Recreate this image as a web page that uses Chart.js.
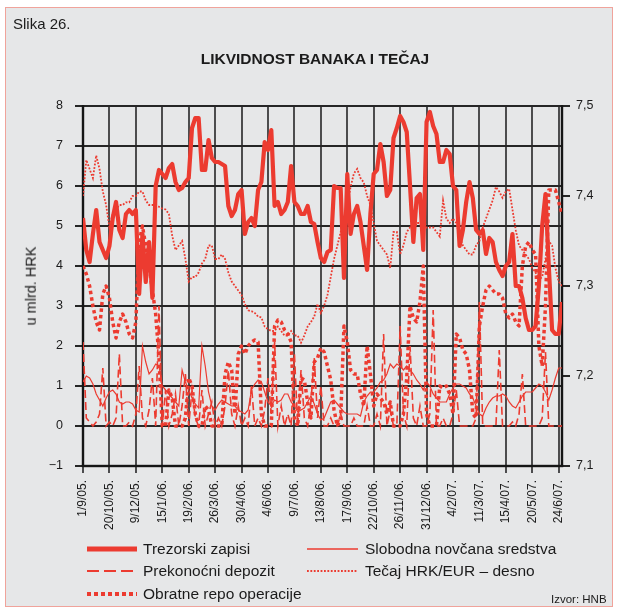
<!DOCTYPE html>
<html>
<head>
<meta charset="utf-8">
<script src="https://cdn.jsdelivr.net/npm/chart.js@4/dist/chart.umd.min.js"></script>
<style>
body{margin:0;background:#fff;font-family:"Liberation Sans",Arial,sans-serif;color:#1b1b1b;}
#frame{position:absolute;left:5px;top:7px;width:608px;height:600px;background:#e6e7e8;border:1px solid #f0a39b;box-sizing:border-box;}
#c{position:absolute;left:0;top:0;}
.t{position:absolute;white-space:nowrap;line-height:1;}
.leg{position:absolute;}
</style>
</head>
<body>
<div id="frame"></div>
<canvas id="c" width="618" height="610"></canvas>

<div class="t" style="left:13px;top:16px;font-size:15px">Slika 26.</div>
<div class="t" style="left:315px;top:59px;font-size:15.5px;font-weight:bold;transform:translate(-50%,-50%)">LIKVIDNOST BANAKA I TEČAJ</div>
<div class="t" style="left:31px;top:286px;font-size:14.5px;transform:translate(-50%,-50%) rotate(-90deg)">u mlrd. HRK</div>

<!-- legenda -->
<svg class="leg" style="left:87px;top:545px" width="50" height="8"><line x1="0" y1="4" x2="50" y2="4" stroke="#ec3b30" stroke-width="5"/></svg>
<div class="t" style="left:143px;top:549px;font-size:15.5px;transform:translateY(-50%)">Trezorski zapisi</div>
<svg class="leg" style="left:307px;top:545px" width="51" height="8"><line x1="0" y1="4" x2="51" y2="4" stroke="#ec3b30" stroke-width="1.5"/></svg>
<div class="t" style="left:365px;top:549px;font-size:15.5px;transform:translateY(-50%)">Slobodna novčana sredstva</div>
<svg class="leg" style="left:87px;top:567px" width="50" height="8"><line x1="0" y1="4" x2="50" y2="4" stroke="#ec3b30" stroke-width="2" stroke-dasharray="12 5"/></svg>
<div class="t" style="left:143px;top:571px;font-size:15.5px;transform:translateY(-50%)">Prekonoćni depozit</div>
<svg class="leg" style="left:307px;top:567px" width="50" height="8"><line x1="0" y1="4" x2="50" y2="4" stroke="#ec3b30" stroke-width="1.8" stroke-dasharray="1.8 1.6"/></svg>
<div class="t" style="left:365px;top:571px;font-size:15.5px;transform:translateY(-50%)">Tečaj HRK/EUR – desno</div>
<svg class="leg" style="left:87px;top:590px" width="50" height="8"><line x1="0" y1="4" x2="50" y2="4" stroke="#ec3b30" stroke-width="4" stroke-dasharray="4 3"/></svg>
<div class="t" style="left:143px;top:594px;font-size:15.5px;transform:translateY(-50%)">Obratne repo operacije</div>
<div class="t" style="left:551px;top:600px;font-size:11.5px;transform:translateY(-50%)">Izvor: HNB</div>

<script>
// --------- podaci ---------
// datumi na osi x (svaka 8. točka)
const dateLabels=['1/9/05.','20/10/05.','9/12/05.','15/1/06.','19/2/06.','26/3/06.','30/4/06.','4/6/06.','9/7/06.','13/8/06.','17/9/06.','22/10/06.','26/11/06.','31/12/06.','4/2/07.','11/3/07.','15/4/07.','20/5/07.','24/6/07.'];
const STEP=8;
const yTicks=[-1,0,1,2,3,4,5,6,7,8];
const y2Ticks=[7.1,7.2,7.3,7.4,7.5];

// trezorski zapisi, mlrd. HRK
const trezorski=[5.2,4.4,4.1,4.8,5.4,4.6,4.4,4.2,4.5,5.2, 5.6,4.9,4.7,5.3,5.4,5.3,5.4,3.3,4.8,3.6,
 4.6,3.2,6.0,6.4,6.3,6.2,6.45,6.55,6.1,5.9, 5.95,6.1,6.2,7.45,7.7,7.7,6.4,6.4,7.15,6.7,
 6.6,6.6,6.55,6.5,5.5,5.25,5.4,5.8,5.9,4.8, 5.1,5.2,5.0,5.9,6.1,7.1,6.9,7.4,5.5,5.6,
 5.3,5.4,5.6,6.5,5.6,5.5,5.3,5.3,5.5,5.1, 5.05,4.6,4.2,4.1,4.35,4.4,6.0,5.95,5.95,3.7,
 6.3,4.8,5.3,5.5,5.1,4.5,3.9,5.3,6.3,6.4, 7.05,6.6,5.75,5.9,7.2,7.45,7.75,7.6,7.35,6.0,
 4.6,5.7,5.8,4.4,7.6,7.85,7.5,7.3,6.6,6.6, 6.9,6.8,6.0,5.9,4.5,4.9,5.6,6.1,5.7,4.9,
 4.8,4.9,4.3,4.7,4.6,4.1,3.9,3.75,4.0,4.1, 4.8,3.5,3.5,3.2,2.7,2.4,2.4,2.5,3.5,5.0,
 5.8,4.0,2.4,2.3,2.3,3.1];
// slobodna novčana sredstva
const slobodna=[1.1,1.25,1.2,1.05,0.8,0.65,0.5,0.7,0.85,0.9, 0.8,0.6,0.55,0.6,0.6,0.55,0.4,0.35,2.0,1.6,
 1.3,1.4,1.55,1.5,1.0,0.9,0.8,0.7,0.6,0.5, 1.4,1.1,0.9,0.7,0.55,0.45,2.0,1.5,0.85,0.5,
 0.4,0.55,0.65,0.6,0.55,0.5,0.5,0.4,0.35,0.3, 0.4,0.9,1.05,1.15,1.1,0.85,0.6,0.5,0.65,0.6,
 0.65,0.8,0.8,0.6,0.5,0.35,0.4,0.45,0.6,0.75, 0.55,0.3,0.15,0.2,0.4,0.6,0.65,0.55,0.45,0.35,
 0.3,0.3,0.3,0.3,0.25,0.6,0.75,0.85,0.85,0.95, 1.1,1.15,1.3,1.55,1.45,1.55,1.5,1.4,1.5,1.4,
 1.3,1.15,1.05,0.9,1.1,1.0,0.8,0.7,0.6,0.6, 0.6,0.8,0.95,1.05,1.05,1.0,0.95,0.8,0.7,0.5,
 0.3,0.25,0.45,0.6,0.7,0.75,0.75,0.8,0.75,0.6, 0.5,0.45,0.6,0.75,0.85,0.85,0.85,0.95,1.05,1.0,
 0.85,0.65,0.9,1.2,1.45,1.45];
// prekonoćni depozit
const prekonocni=[2.1,0.2,0.1,0,0.1,0.3,1.45,0,0.1,0, 0.2,1.8,0,0,0.1,0,0.3,1.5,0.2,0,
 0.4,1.2,0,3.0,0,0.9,0,0.3,0.8,0, 0.5,1.3,0,0.9,0.2,0,0.9,0,0.3,0.6,
 0,0.2,0,0.5,1.4,0.3,0,0.5,0,0.2, 0,1.0,0,0.2,0,0.4,1.2,0.3,2.1,0,
 0.5,0,0.3,0,1.8,0,1.4,0.2,0,0.6, 1.7,0.2,1.0,0,0,0.2,0,0,0.3,0,
 0,0,0.2,0,0,0,0.5,0,0,0.3, 0,2.3,0,0.4,0,0,2.5,0.3,0,2.0,
 0.2,0,0.5,0,0,0.3,2.9,0,0,0.2, 0,0,0.3,0.9,0,0,0,0,0,0.2,
 3.1,0,0,0,0,0,1.9,0,0,0, 0.1,0,0.3,1.3,0,0,0,0,0,0.2,
 1.85,0,0,0,0,0];
// obratne repo operacije
const repo=[4.0,3.8,3.5,3.0,2.6,2.4,3.3,3.5,3.2,2.6, 2.2,2.6,2.8,2.6,2.3,2.2,2.6,4.6,5.0,4.5,
 4.0,3.4,2.8,1.7,0,0,0.9,0.7,0,0, 0,0.2,1.2,1.0,0.3,0,0,0.5,0.4,0,
 0,0,0,1.3,1.6,1.4,0.3,1.8,2.0,1.8, 2.0,2.1,2.15,2.1,0.3,0,0,0,2.5,2.65,
 2.6,2.4,2.3,2.1,0.2,0,1.2,1.15,0.6,0.2, 1.6,1.7,1.95,1.85,1.5,1.15,0.4,0,0.2,2.5,
 2.1,1.4,1.3,1.3,0.8,0.5,2.0,1.3,0.5,0.8, 0.7,0.6,0.3,0.6,0,0,0,0.3,1.2,3.0,
 2.7,2.6,3.1,4.0,0.3,0,0,0,1.0,0.95, 1.0,0.8,0.3,2.3,2.2,1.9,1.8,1.4,0.3,0.2,
 2.5,3.0,3.4,3.5,3.4,3.3,3.3,3.2,2.8,2.7, 2.8,2.6,2.5,4.0,4.5,4.6,4.4,4.3,2.0,1.5,
 3.0,5.9,5.9,5.9,5.6,5.3];
// tečaj HRK/EUR (desna os)
const tecaj=[7.40,7.44,7.43,7.42,7.445,7.43,7.405,7.39,7.365,7.38, 7.385,7.39,7.39,7.393,7.393,7.40,7.40,7.405,7.405,7.395,
 7.39,7.39,7.39,7.388,7.386,7.385,7.38,7.356,7.34,7.345, 7.35,7.33,7.305,7.31,7.31,7.315,7.325,7.33,7.345,7.345,
 7.33,7.33,7.335,7.33,7.315,7.305,7.30,7.295,7.29,7.28, 7.273,7.272,7.27,7.266,7.265,7.255,7.252,7.25,7.25,7.255,
 7.25,7.245,7.245,7.25,7.245,7.245,7.237,7.245,7.255,7.26, 7.266,7.28,7.27,7.278,7.29,7.31,7.33,7.345,7.36,7.375,
 7.39,7.41,7.425,7.43,7.42,7.415,7.40,7.39,7.37,7.35, 7.345,7.34,7.335,7.32,7.36,7.36,7.335,7.345,7.36,7.365,
 7.36,7.37,7.37,7.375,7.365,7.365,7.365,7.36,7.355,7.395, 7.375,7.37,7.375,7.37,7.355,7.345,7.34,7.335,7.335,7.345,
 7.35,7.365,7.375,7.385,7.395,7.41,7.405,7.398,7.405,7.408, 7.385,7.362,7.345,7.34,7.335,7.33,7.32,7.315,7.307,7.31,
 7.33,7.35,7.345,7.32,7.305,7.30];

const RED='#ec3b30';
const GRID='#262626';
const pts=a=>a.map((v,i)=>({x:i,y:v}));

function ds(label,arr,w,dash,axis){
  return {label:label,data:pts(arr),yAxisID:axis||'y',borderColor:RED,borderWidth:w,borderDash:dash||[],
    borderCapStyle:'butt',borderJoinStyle:w>3?'round':'miter',pointRadius:0,tension:0,fill:false};
}

// mreža, crtice i okvir – pozicije iz skala grafa
const mreza={id:'mreza',beforeDatasetsDraw(ch){
  const {ctx,chartArea:a,scales:{x,y,y2}}=ch;
  ctx.save();
  ctx.setLineDash([]);
  ctx.strokeStyle=GRID; ctx.lineWidth=1.6;
  x.ticks.forEach(t=>{const p=Math.round(x.getPixelForValue(t.value));
    ctx.beginPath(); ctx.moveTo(p,a.top); ctx.lineTo(p,a.bottom+7); ctx.stroke();});
  ctx.fillStyle=GRID;
  y.ticks.forEach(t=>{const p=Math.round(y.getPixelForValue(t.value)); ctx.fillRect(a.left-8,p-1,a.right-a.left+8,2);});
  y2.ticks.forEach(t=>{const p=Math.round(y2.getPixelForValue(t.value)); ctx.fillRect(a.right,p-1,8,2);});
  ctx.fillStyle='#151515';
  ctx.fillRect(a.left-1.2,a.top-1,2.4,a.bottom-a.top+2);
  ctx.fillRect(a.right-1.2,a.top-1,2.4,a.bottom-a.top+2);
  ctx.fillRect(a.left-1.2,a.bottom-1.2,a.right-a.left+2.4,2.4);
  ctx.restore();
}};

const HIDE='rgba(0,0,0,0)';
new Chart(document.getElementById('c'),{
  type:'line',
  data:{datasets:[
    ds('Trezorski zapisi',trezorski,4.2),
    ds('Slobodna novčana sredstva',slobodna,1.2),
    ds('Prekonoćni depozit',prekonocni,1.6,[8,4]),
    ds('Obratne repo operacije',repo,3.5,[3.5,3]),
    ds('Tečaj HRK/EUR – desno',tecaj,1.8,[1.8,1.6],'y2')
  ]},
  plugins:[mreza],
  options:{
    responsive:false,animation:false,
    layout:{padding:{top:106,left:0,right:0,bottom:0}},
    plugins:{legend:{display:false},tooltip:{enabled:false}},
    scales:{
      x:{type:'linear',min:0,max:145,
        afterBuildTicks:s=>{s.ticks=dateLabels.map((l,k)=>({value:k*STEP}));},
        afterFit:s=>{s.height=144;},
        ticks:{autoSkip:false,maxRotation:90,minRotation:90,padding:7,color:'#1b1b1b',
          font:{family:'"Liberation Sans", Arial',size:12},
          callback:v=>dateLabels[Math.round(v/STEP)]},
        grid:{color:HIDE,tickLength:7},
        border:{display:false}},
      y:{position:'left',min:-1,max:8,
        afterBuildTicks:s=>{s.ticks=yTicks.map(v=>({value:v}));},
        afterFit:s=>{s.width=83;},
        ticks:{padding:12,color:'#1b1b1b',font:{family:'"Liberation Sans", Arial',size:12.5},
          callback:v=>String(v).replace('-','−')},
        grid:{color:HIDE,tickLength:8},
        border:{display:false}},
      y2:{position:'right',min:7.1,max:7.5,
        afterBuildTicks:s=>{s.ticks=y2Ticks.map(v=>({value:v}));},
        afterFit:s=>{s.width=56;},
        ticks:{padding:6,color:'#1b1b1b',font:{family:'"Liberation Sans", Arial',size:12.5},
          callback:v=>v.toFixed(1).replace('.',',')},
        grid:{drawOnChartArea:false,color:HIDE,tickLength:8},
        border:{display:false}}
    }
  }
});
</script>
</body>
</html>
